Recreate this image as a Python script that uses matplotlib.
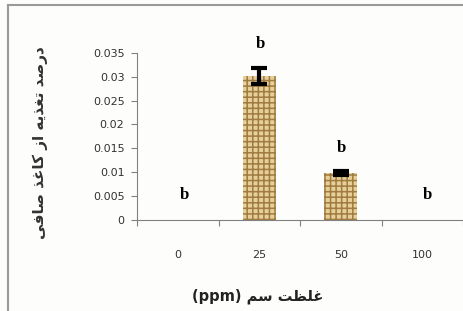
import numpy as np
import matplotlib.pyplot as plt
from matplotlib.lines import Line2D

# data
categories = ['0', '25', '50', '100']
values = [0.0, 0.0302, 0.0098, 0.0]
errors = [0.0, 0.0017, 0.0004, 0.0]
letters = ['b', 'b', 'b', 'b']
letter_y = [0.0052, 0.0368, 0.0151, 0.0052]
letter_dx = [0.08, 0.02, 0.01, 0.06]
yticks = [0, 0.005, 0.01, 0.015, 0.02, 0.025, 0.03, 0.035]
ytick_labels = ['0', '0.005', '0.01', '0.015', '0.02', '0.025', '0.03', '0.035']

# persian labels written in visual order with presentation forms
ylabel = ('\ufef0\ufed3\ufe8e\ufebb \ufeac\ufecf\ufe8e\ufedb \ufeaf\ufe8d '
          '\ufeea\ufef3\ufeac\ufed0\ufe97 \ufeaa\ufebb\ufead\ufea9')
xlabel = '(ppm) \ufee2\ufeb3 \ufe96\ufec8\ufee0\ufecf'

plt.rcParams['hatch.linewidth'] = 1.1

W, H = 464, 311
fig = plt.figure(figsize=(W / 100, H / 100), dpi=100)
fig.patch.set_facecolor('#fdfdfb')

# frame lines top and left
fig.add_artist(Line2D([8 / W, 8 / W], [0, 1 - 5 / H], transform=fig.transFigure, color='#9a9a9a', lw=1.5))
fig.add_artist(Line2D([8 / W, 1], [1 - 5 / H, 1 - 5 / H], transform=fig.transFigure, color='#9a9a9a', lw=1.5))

left, right, bottom, top = 137, 463, 219.5, 53
ax = fig.add_axes([left / W, 1 - bottom / H, (right - left) / W, (bottom - top) / H])
ax.set_facecolor('none')

x = np.arange(len(categories))
ax.bar(x, values, width=0.41, color='#e6cf98', edgecolor='#a07c42', linewidth=0, hatch='+++')
for xi, v, e in zip(x, values, errors):
    if e > 0:
        ax.errorbar(xi, v, yerr=e, fmt='none', ecolor='black', elinewidth=3, capsize=6, capthick=3)

for xi, ly, t, dx in zip(x, letter_y, letters, letter_dx):
    ax.text(xi + dx, ly, t, ha='center', va='center', fontsize=12, fontweight='bold',
            family='Liberation Serif', clip_on=False)

ax.set_xlim(-0.5, 3.5)
ax.set_ylim(0, 0.035)
ax.set_yticks(yticks)
ax.set_yticklabels(ytick_labels)
ax.set_xticks(np.arange(-0.5, 4, 1))
ax.set_xticklabels([])
ax.set_xticks(x, minor=True)
ax.set_xticklabels(categories, minor=True)
ax.tick_params(axis='x', which='minor', length=0, pad=22, labelsize=8, labelcolor='#333333')
ax.tick_params(axis='x', which='major', length=4, direction='out', color='#808080')
ax.tick_params(axis='y', length=4, direction='out', color='#808080', labelsize=8,
               labelcolor='#333333', pad=5)

for s in ['top', 'right']:
    ax.spines[s].set_visible(False)
ax.spines['left'].set_color('#808080')
ax.spines['bottom'].set_color('#808080')

fig.text(40 / W, 1 - 143 / H, ylabel, rotation=90, ha='center', va='center', fontsize=11,
         family='DejaVu Sans', fontweight='bold', color='#333333')
fig.text(258 / W, 1 - 296 / H, xlabel, ha='center', va='center', fontsize=10.5,
         family='DejaVu Sans', fontweight='bold', color='#222222')

fig.savefig('out.png', dpi=100, facecolor=fig.get_facecolor())
